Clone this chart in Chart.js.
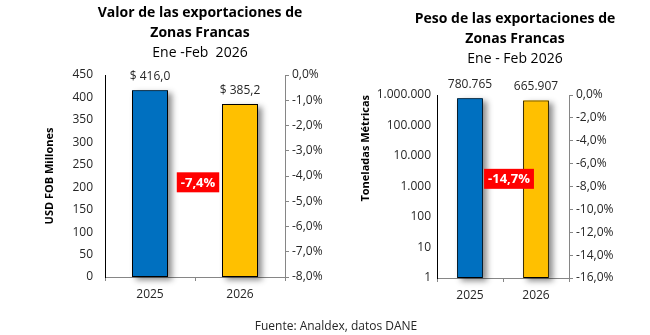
<!DOCTYPE html>
<html lang="es">
<head>
<meta charset="utf-8">
<script src="https://cdn.jsdelivr.net/npm/chart.js@4.4.1/dist/chart.umd.min.js"></script>
<style>
  body { margin: 0; background: #fff; font-family: "Open Sans", sans-serif; color: #000; }
  #wrap { position: relative; width: 650px; height: 335px; overflow: hidden; }
  canvas { position: absolute; top: 0; }
  .titulo { position: absolute; width: 260px; text-align: center; font-size: 14px; line-height: 20px; z-index: 2; }
  .fuente { position: absolute; left: 186px; top: 318px; width: 300px; text-align: center; font-size: 12px; line-height: 16px; color: #262626; }
</style>
</head>
<body>
<div id="wrap">
  <div class="titulo" style="left:70px; top:2px;"><b>Valor de las exportaciones de<br>Zonas Francas</b><br>Ene -Feb&nbsp; 2026</div>
  <div class="titulo" style="left:385px; top:8px;"><b>Peso de las exportaciones de<br>Zonas Francas</b><br>Ene - Feb 2026</div>
  <canvas id="valor" width="330" height="335" style="left:0;"></canvas>
  <canvas id="peso" width="320" height="335" style="left:330px;"></canvas>
  <div class="fuente">Fuente: Analdex, datos DANE</div>
</div>
<script>
// Datos
const categorias = ["2025", "2026"];
const valorUSD = [416.0, 385.2];          // USD FOB millones
const pesoToneladas = [780765, 665907];   // toneladas métricas
const ticksPeso = [1, 10, 100, 1000, 10000, 100000, 1000000];

const colores = ["#0070C0", "#FFC000"];
const gris = "#868686";

Chart.defaults.font.family = '"Open Sans", sans-serif';
Chart.defaults.font.size = 12;
Chart.defaults.color = "#262626";

function miles(v) {
  return String(Math.round(v)).replace(/\B(?=(\d{3})+(?!\d))/g, ".");
}
function dolares(v) {
  return "$ " + v.toFixed(1).replace(".", ",");
}
function porcentaje(v) {
  return Number(v).toFixed(1).replace(".", ",") + "%";
}
function fijarAncho(w) {
  return function (scale) { scale.width = w; };
}
function fijarAlto(h) {
  return function (scale) { scale.height = h; };
}

// sombra de las barras, etiquetas de valor y recuadro de variación
function etiquetasPlugin(formato, variacionY, dx) {
  return {
    id: "etiquetas",
    beforeDatasetsDraw(chart) {
      // la barra recorta su propio dibujo, así que la sombra va aparte
      const ctx = chart.ctx;
      const barras = chart.getDatasetMeta(0).data;
      ctx.save();
      ctx.shadowColor = "rgba(0,0,0,0.45)";
      ctx.shadowBlur = 6;
      ctx.shadowOffsetX = 4;
      ctx.shadowOffsetY = 3;
      barras.forEach(function (b, i) {
        const p = b.getProps(["x", "y", "base", "width"], true);
        ctx.fillStyle = colores[i];
        ctx.fillRect(p.x - p.width / 2, p.y, p.width, p.base - p.y);
      });
      ctx.restore();
    },
    afterDatasetsDraw(chart) {
      const ctx = chart.ctx;
      const datos = chart.data.datasets[0].data;
      const barras = chart.getDatasetMeta(0).data;
      ctx.save();
      ctx.font = '12px "Open Sans"';
      ctx.fillStyle = "#262626";
      ctx.textAlign = "center";
      ctx.textBaseline = "middle";
      barras.forEach(function (b, i) {
        ctx.fillText(formato(datos[i]), b.x, b.y - 14);
      });

      const variacion = (datos[1] / datos[0] - 1) * 100;
      const texto = porcentaje(variacion);
      ctx.font = 'bold 13px "Open Sans"';
      const w = ctx.measureText(texto).width + 8;
      const h = 20;
      const cx = (barras[0].x + barras[1].x) / 2 + dx;
      const cy = chart.scales.y2.getPixelForValue(variacionY);
      ctx.fillStyle = "#FF0000";
      ctx.fillRect(cx - w / 2, cy - h / 2, w, h);
      ctx.fillStyle = "#fff";
      ctx.fillText(texto, cx, cy + 0.5);
      ctx.restore();
    }
  };
}

// Valor (USD FOB millones)
new Chart(document.getElementById("valor"), {
  type: "bar",
  data: {
    labels: categorias,
    datasets: [{
      data: valorUSD,
      backgroundColor: colores,
      borderColor: "#000",
      borderWidth: 1,
      borderSkipped: false,
      barPercentage: 0.4,
      categoryPercentage: 1
    }]
  },
  options: {
    responsive: false,
    animation: false,
    devicePixelRatio: 1,
    layout: { padding: { top: 75 } },
    plugins: { legend: { display: false }, tooltip: { enabled: false } },
    scales: {
      x: {
        grid: { drawOnChartArea: false, tickLength: 4, color: gris },
        border: { color: gris },
        ticks: { padding: 6 },
        afterFit: fijarAlto(58)
      },
      y: {
        min: 0,
        max: 450,
        ticks: { stepSize: 50, padding: 12 },
        grid: { display: false, drawTicks: false },
        border: { color: "#000" },
        title: {
          display: true,
          text: "USD FOB Millones",
          color: "#000",
          font: { weight: "bold", size: 11 },
          padding: { top: 43 }
        },
        afterFit: fijarAncho(105)
      },
      y2: {
        position: "right",
        min: -8,
        max: 0,
        ticks: { stepSize: 1, padding: 3, callback: porcentaje },
        grid: { drawOnChartArea: false, tickLength: 4, color: gris },
        border: { color: gris },
        afterFit: fijarAncho(45)
      }
    }
  },
  plugins: [etiquetasPlugin(dolares, -4.25, 3)]
});

// Peso (toneladas métricas, escala logarítmica)
new Chart(document.getElementById("peso"), {
  type: "bar",
  data: {
    labels: categorias,
    datasets: [{
      data: pesoToneladas,
      backgroundColor: colores,
      borderColor: "#000",
      borderWidth: 1,
      borderSkipped: false,
      barPercentage: 0.39,
      categoryPercentage: 1
    }]
  },
  options: {
    responsive: false,
    animation: false,
    devicePixelRatio: 1,
    layout: { padding: { top: 95 } },
    plugins: { legend: { display: false }, tooltip: { enabled: false } },
    scales: {
      x: {
        grid: { drawOnChartArea: false, tickLength: 4, color: gris },
        border: { color: gris },
        ticks: { padding: 6 },
        afterFit: fijarAlto(57)
      },
      y: {
        type: "logarithmic",
        min: 1,
        max: 1000000,
        afterBuildTicks: function (scale) {
          scale.ticks = ticksPeso.map(function (v) { return { value: v }; });
        },
        ticks: { padding: 6, callback: miles },
        grid: { display: false, drawTicks: false },
        border: { color: "#000" },
        title: {
          display: true,
          text: "Toneladas Métricas",
          align: "end",
          color: "#000",
          font: { weight: "bold", size: 11 },
          padding: { top: 29 }
        },
        afterFit: fijarAncho(107)
      },
      y2: {
        position: "right",
        min: -16,
        max: 0,
        ticks: { stepSize: 2, padding: 3, callback: porcentaje },
        grid: { drawOnChartArea: false, tickLength: 4, color: gris },
        border: { color: gris },
        afterFit: fijarAncho(81)
      }
    }
  },
  plugins: [etiquetasPlugin(miles, -7.33, 6)]
});
</script>
</body>
</html>
